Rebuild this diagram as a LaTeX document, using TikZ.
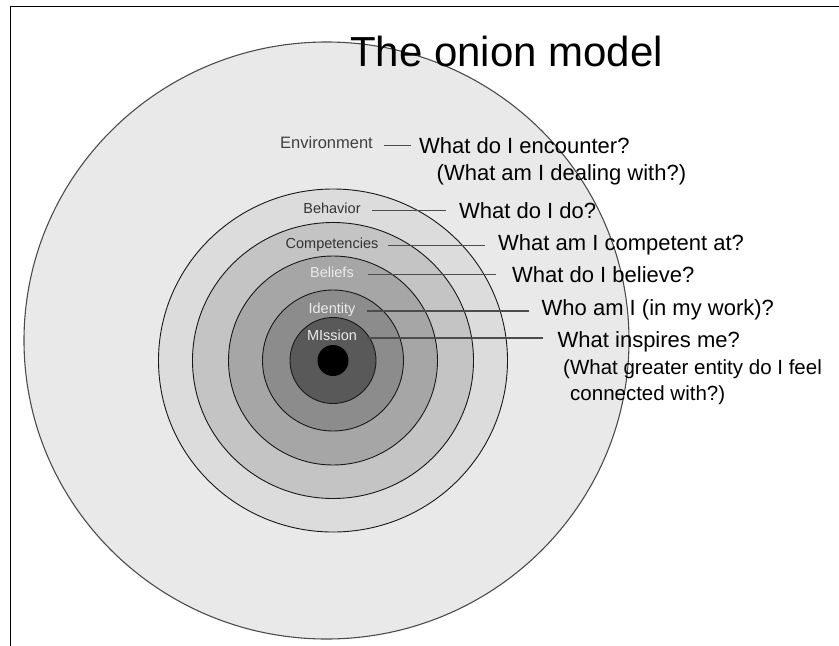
\documentclass[tikz,border=0pt]{standalone}
\usepackage{fontspec}
\setmainfont{Liberation Sans}
\usetikzlibrary{positioning, calc}

\definecolor{skin0}{HTML}{E9E9E9}
\definecolor{skin1}{HTML}{DCDCDC}
\definecolor{skin2}{HTML}{C4C4C4}
\definecolor{skin3}{HTML}{A6A6A6}
\definecolor{skin4}{HTML}{8C8C8C}
\definecolor{skin5}{HTML}{595959}

\begin{document}
\begin{tikzpicture}[
    x=1pt, y=-1pt,
    layer/.style={draw=black!90, line width=0.9pt},
    ring_label/.style={inner sep=0pt, anchor=base, font=\fontsize{14.5}{16}\selectfont, text=black!80},
    ring_label_light/.style={ring_label, text=white!92!black},
    question/.style={inner sep=0pt, anchor=base west, font=\fontsize{22}{26}\selectfont},
    leader/.style={draw=black!70, line width=1.3pt, shorten <=11pt, shorten >=13pt},
    title_text/.style={inner sep=0pt, anchor=base, font=\fontsize{42}{48}\selectfont}
]
    \useasboundingbox (0,0) rectangle (839,646);

    % --- Slide frame (top and left edges only) ---
    \draw[line width=1.2pt] (839,6.5) -- (10.5,6.5) -- (10.5,646);

    % --- Outer layer: environment ---
    \draw[fill=skin0, draw=black!70, line width=1.1pt] (326.5,340.5) ellipse [x radius=302.5pt, y radius=298.5pt];

    % --- Inner layers (all share one centre) ---
    \coordinate (core) at (333,360.5);
    \draw[layer, fill=skin1] (core) ellipse [x radius=174.5pt, y radius=171.5pt];
    \draw[layer, fill=skin2] (core) ellipse [x radius=140.5pt, y radius=138pt];
    \draw[layer, fill=skin3] (core) circle [radius=104.5pt];
    \draw[layer, fill=skin4] (core) circle [radius=70.5pt];
    \draw[layer, fill=skin5] (core) circle [radius=43pt];
    \fill[black] (core) circle [radius=15.5pt];

    % --- Title ---
    \node[title_text] (title) at (506.5,66.7) {The onion model};

    % --- Layer names ---
    \node[ring_label, font=\fontsize{16.5}{18}\selectfont, text=black!75] (environment) at (326.5,148.3) {Environment};
    \node[ring_label] (behavior) at (332,213.3) {Behavior};
    \node[ring_label] (competencies) at (332,248.3) {Competencies};
    \node[ring_label_light] (beliefs) at (332,277.3) {Beliefs};
    \node[ring_label_light] (identity) at (332,313.5) {Identity};
    \node[ring_label_light] (mission) at (332,340.7) {MIssion};

    % --- Questions ---
    \node[question] (q_encounter) at (419,153) {What do I encounter?};
    \node[question] (q_dealing) at (436.5,180.5) {(What am I dealing with?)};
    \node[question] (q_do) at (459,218) {What do I do?};
    \node[question] (q_competent) at (498,250.5) {What am I competent at?};
    \node[question] (q_believe) at (512,282) {What do I believe?};
    \node[question] (q_who) at (541.5,315) {Who am I (in my work)?};
    \node[question] (q_inspires) at (557.5,347) {What inspires me?};
    \node[question, font=\fontsize{20.5}{24}\selectfont] (q_greater) at (563,374) {(What greater entity do I feel};
    \node[question, font=\fontsize{20.5}{24}\selectfont] (q_connected) at (570,400) {connected with?)};

    % --- Leaders from layer name to question ---
    \draw[leader, shorten <=11pt, shorten >=8pt] (environment.mid east) -- (environment.mid east -| q_encounter.west);
    \draw[leader] (behavior.mid east) -- (behavior.mid east -| q_do.west);
    \draw[leader, shorten <=9pt] (competencies.mid east) -- (competencies.mid east -| q_competent.west);
    \draw[leader, shorten <=14pt, shorten >=16pt] (beliefs.mid east) -- (beliefs.mid east -| q_believe.west);
    \draw[leader] (identity.mid east) -- (identity.mid east -| q_who.west);
    \draw[leader, shorten <=10pt, shorten >=15pt] (mission.mid east) -- (mission.mid east -| q_inspires.west);

\end{tikzpicture}
\end{document}
